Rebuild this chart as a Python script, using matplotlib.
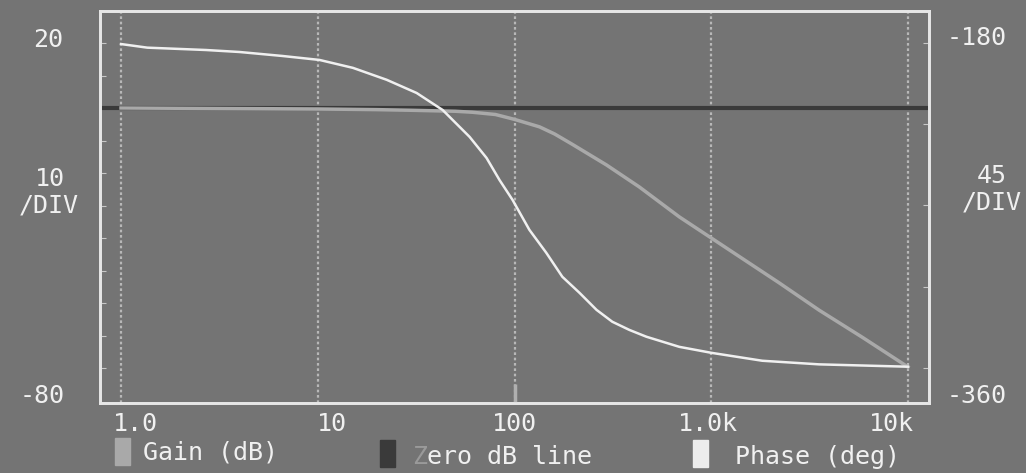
import matplotlib
matplotlib.use("Agg")
import matplotlib.pyplot as plt
from matplotlib.patches import Rectangle

# gain curve (dB)
gain_freq = [1, 5, 10, 20, 30, 50, 61, 80, 100, 134, 160, 197, 293, 431, 688, 1000, 2213, 3532, 5840, 10000]
gain_db = [0, -0.2, -0.3, -0.5, -0.7, -1.0, -1.3, -2.0, -3.5, -5.8, -8.0, -11.2, -17.5, -24.3, -33.5, -40.0, -53.8, -62.2, -70.5, -79.7]

# phase curve (deg)
phase_freq = [1, 1.36, 2.7, 4.0, 6.6, 10.2, 15.1, 22.4, 31.8, 43.1, 59.1, 72.1, 84, 97.7, 119, 145, 175, 214,
              261, 314, 383, 468, 688, 1000, 1816, 3532, 10000]
phase_deg = [-180.6, -182.6, -183.9, -185, -187.2, -189.4, -193.8, -200.4, -207.7, -217.1, -232.0, -243.7, -256,
             -266.9, -283.5, -296.2, -309.5, -318.4, -327.8, -334.4, -338.9, -342.7, -348.3, -351.6, -356.0,
             -358.0, -359.3]

grid_freq = [1, 10, 100, 1000, 10000]
xtick_labels = ["1.0", "10", "100", "1.0k", "10k"]
legend_labels = ["Gain (dB)", "Zero dB line", "Phase (deg)"]

BG = "#747474"
FG = "#f0f0f0"
W, H = 1026, 473

plt.rcParams['font.family'] = ['DejaVu Sans Mono']

fig = plt.figure(figsize=(W / 100, H / 100), dpi=100, facecolor=BG)
ax = fig.add_axes([100 / W, 1 - 403 / H, 829 / W, 392 / H], facecolor=BG)
ax2 = ax.twinx()

ax.set_xscale('log')
ax.set_xlim(0.782, 12782)
ax.set_ylim(-90.77, 29.85)
ax2.set_ylim(-379.4, -162.3)

for f in grid_freq:
    ax.axvline(f, color="#b8b8b8", lw=1.6, ls=(0, (1.2, 1.2)), zorder=1)

ax.axhline(0, color="#3a3a3a", lw=3, zorder=2)
ax.plot(gain_freq, gain_db, color="#a9a9a9", lw=2.5, zorder=3)
ax2.plot(phase_freq, phase_deg, color=FG, lw=1.8, zorder=4)

# cursor marker at 100 Hz
ax.plot([100, 100], [-84.9, -90.77], color="#b0b0b0", lw=2.5, solid_capstyle='butt', zorder=3)

ax.set_yticks(range(-80, 21, 10))
ax2.set_yticks(range(-360, -179, 45))
ax.tick_params(axis='y', direction='in', length=4, color="#c8c8c8", labelleft=False)
ax2.tick_params(axis='y', direction='in', length=4, color="#c8c8c8", labelright=False)
ax.tick_params(axis='x', which='both', length=0, labelbottom=False)
ax.minorticks_off()
for a in (ax, ax2):
    for s in a.spines.values():
        s.set_color("#e6e6e6")
        s.set_linewidth(2)

ax2.set_zorder(ax.get_zorder() + 1)
ax2.patch.set_visible(False)


def ftext(x, y, s, **kw):
    fig.text(x / W, 1 - y / H, s, color=kw.pop('color', FG), fontsize=kw.pop('fontsize', 18),
             ha=kw.pop('ha', 'center'), va='center', **kw)


# tick labels
for x, lab in zip([135, 332, 514, 708, 891], xtick_labels):
    ftext(x, 424, lab)

# left scale labels
ftext(48, 40, "20")
ftext(50, 179, "10")
ftext(49, 205, "/DIV")
ftext(42, 396, "-80")
# right scale labels
ftext(977, 38, "-180")
ftext(992, 176, "45")
ftext(992, 203, "/DIV")
ftext(977, 396, "-360")

# legend
for (x0, y0, c) in [(115, 438, "#a9a9a9"), (380, 440, "#3a3a3a"), (693, 440, "#ececec")]:
    fig.patches.append(Rectangle((x0 / W, 1 - (y0 + 27) / H), 15 / W, 27 / H,
                                 transform=fig.transFigure, color=c))
ftext(143, 452, legend_labels[0], ha='left')
ftext(412, 457, legend_labels[1][0], ha='left', color="#9a9a9a")
ftext(427, 457, legend_labels[1][1:], ha='left')
ftext(735, 457, legend_labels[2], ha='left')

fig.savefig("out.png", dpi=100, facecolor=BG)
